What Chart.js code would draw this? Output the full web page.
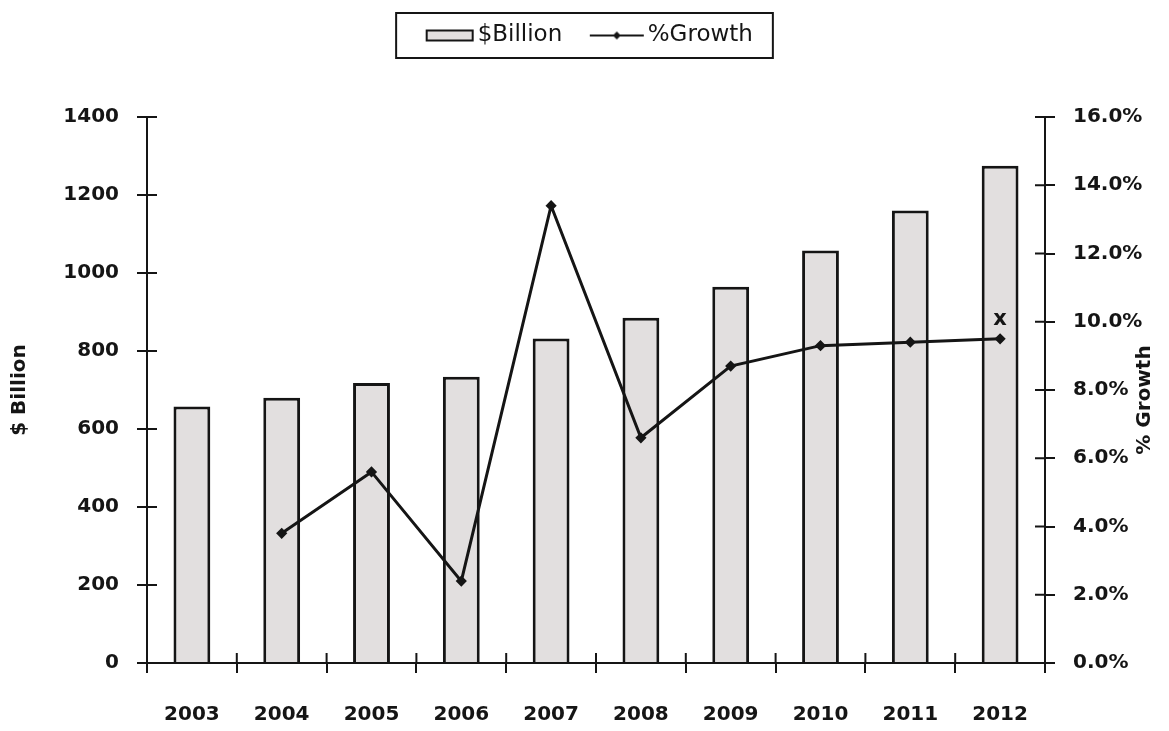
<!DOCTYPE html>
<html>
<head>
<meta charset="utf-8">
<script src="https://cdn.jsdelivr.net/npm/chart.js@4.4.1/dist/chart.umd.min.js"></script>
<style>
  html, body { margin: 0; padding: 0; background: #fff; }
</style>
</head>
<body>
<canvas id="growthChart" width="1169" height="731"></canvas>
<script>
const years = ["2003", "2004", "2005", "2006", "2007", "2008", "2009", "2010", "2011", "2012"];
const billions = [658, 680, 718, 734, 832, 885, 965, 1058, 1160, 1275];
const growthPct = [null, 3.8, 5.6, 2.4, 13.4, 6.6, 8.7, 9.3, 9.4, 9.5];
const billionTicks = [0, 200, 400, 600, 800, 1000, 1200, 1400];
const growthTicks = [0, 2, 4, 6, 8, 10, 12, 14, 16];

const ink = "#151515";
Chart.defaults.font.family = "'DejaVu Sans', sans-serif";
Chart.defaults.color = ink;

// little swatches for the legend, drawn to the right so they sit close to the text
function swatch(kind) {
  const c = document.createElement("canvas");
  c.width = 69; c.height = 16;
  const g = c.getContext("2d");
  if (kind === "bar") {
    g.fillStyle = "#e2dfdf";
    g.fillRect(20, 3, 46, 10);
    g.strokeStyle = ink; g.lineWidth = 2;
    g.strokeRect(20, 3, 46, 10);
  } else {
    g.strokeStyle = ink; g.lineWidth = 2;
    g.beginPath(); g.moveTo(13, 8); g.lineTo(67, 8); g.stroke();
    g.fillStyle = ink;
    g.beginPath(); g.moveTo(40, 4); g.lineTo(44, 8); g.lineTo(40, 12); g.lineTo(36, 8); g.closePath(); g.fill();
  }
  return c;
}

const legendSpace = {
  id: "legendSpace",
  beforeInit(chart) {
    const fit = chart.legend.fit;
    chart.legend.fit = function () { fit.call(this); this.height = 117; };
  }
};

const extras = {
  id: "extras",
  afterDraw(chart) {
    const { ctx, scales: { x, y, y1 } } = chart;
    ctx.save();
    // inside half of the cross tick marks
    ctx.strokeStyle = ink; ctx.lineWidth = 2;
    ctx.beginPath();
    y.ticks.forEach((t, i) => { const py = y.getPixelForTick(i); ctx.moveTo(y.right, py); ctx.lineTo(y.right + 10, py); });
    y1.ticks.forEach((t, i) => { const py = y1.getPixelForTick(i); ctx.moveTo(y1.left - 10, py); ctx.lineTo(y1.left, py); });
    const half = (x.getPixelForTick(1) - x.getPixelForTick(0)) / 2;
    for (let i = 1; i < years.length; i++) {
      const px = x.getPixelForTick(i) - half;
      ctx.moveTo(px, x.top); ctx.lineTo(px, x.top - 10);
    }
    ctx.stroke();

    // legend frame
    const hb = chart.legend.legendHitBoxes;
    const last = hb[hb.length - 1];
    const left = hb[0].left - 20, right = last.left + last.width + 20;
    ctx.strokeRect(left, 13, right - left, 45);

    // right axis title, reading upwards
    ctx.fillStyle = ink;
    ctx.font = "bold 20px 'DejaVu Sans'";
    ctx.textAlign = "center"; ctx.textBaseline = "middle";
    ctx.translate(1145, (chart.chartArea.top + chart.chartArea.bottom) / 2 + 10);
    ctx.rotate(-Math.PI / 2);
    ctx.fillText("% Growth", 0, 0);
    ctx.restore();

    // the x mark over the 2012 point
    const pts = chart.getDatasetMeta(1).data;
    const p = pts[pts.length - 1];
    ctx.save();
    ctx.fillStyle = ink;
    ctx.font = "bold 21px 'DejaVu Sans'";
    ctx.textAlign = "center"; ctx.textBaseline = "middle";
    ctx.fillText("x", p.x, p.y - 19);
    ctx.restore();
  }
};

new Chart(document.getElementById("growthChart"), {
  data: {
    labels: years,
    datasets: [
      {
        type: "bar",
        label: "$Billion",
        data: billions,
        yAxisID: "y",
        backgroundColor: "#e2dfdf",
        borderColor: ink,
        borderWidth: 3,
        categoryPercentage: 1,
        barPercentage: 0.41,
        order: 1
      },
      {
        type: "line",
        label: "%Growth",
        data: growthPct,
        yAxisID: "y1",
        borderColor: ink,
        backgroundColor: ink,
        borderWidth: 3,
        pointStyle: "rectRot",
        pointRadius: 3.5,
        tension: 0,
        order: 0
      }
    ]
  },
  options: {
    responsive: false,
    animation: false,
    layout: { padding: 0 },
    plugins: {
      tooltip: { enabled: false },
      legend: {
        position: "top",
        labels: {
          usePointStyle: true,
          pointStyleWidth: 50,
          boxHeight: 16,
          padding: 24,
          font: { size: 23 },
          color: ink,
          generateLabels: () => [
            { text: "$Billion", pointStyle: swatch("bar"), datasetIndex: 0, lineWidth: 0, hidden: false, fontColor: ink },
            { text: "%Growth", pointStyle: swatch("line"), datasetIndex: 1, lineWidth: 0, hidden: false, fontColor: ink }
          ]
        }
      }
    },
    scales: {
      x: {
        afterFit: (s) => { s.height = 68; },
        grid: { drawOnChartArea: false, offset: true, tickLength: 10, color: ink, lineWidth: 2 },
        border: { color: ink, width: 2 },
        ticks: { padding: 30, font: { size: 20, weight: "bold" }, color: ink, maxRotation: 0 }
      },
      y: {
        position: "left",
        min: billionTicks[0],
        max: billionTicks[billionTicks.length - 1],
        afterFit: (s) => { s.width = 147; },
        grid: { drawOnChartArea: false, tickLength: 10, color: ink, lineWidth: 2 },
        border: { color: ink, width: 2 },
        ticks: {
          stepSize: billionTicks[1] - billionTicks[0],
          padding: 18,
          font: { size: 20, weight: "bold" },
          color: ink,
          callback: (v) => String(v)
        },
        title: { display: true, text: "$ Billion", font: { size: 20, weight: "bold" }, color: ink, padding: { top: 8, bottom: 0 } }
      },
      y1: {
        position: "right",
        min: growthTicks[0],
        max: growthTicks[growthTicks.length - 1],
        afterFit: (s) => { s.width = 124; },
        grid: { drawOnChartArea: false, tickLength: 10, color: ink, lineWidth: 2 },
        border: { color: ink, width: 2 },
        ticks: {
          stepSize: growthTicks[1] - growthTicks[0],
          padding: 18,
          font: { size: 20, weight: "bold" },
          color: ink,
          callback: (v) => v.toFixed(1) + "%"
        }
      }
    }
  },
  plugins: [legendSpace, extras]
});
</script>
</body>
</html>
